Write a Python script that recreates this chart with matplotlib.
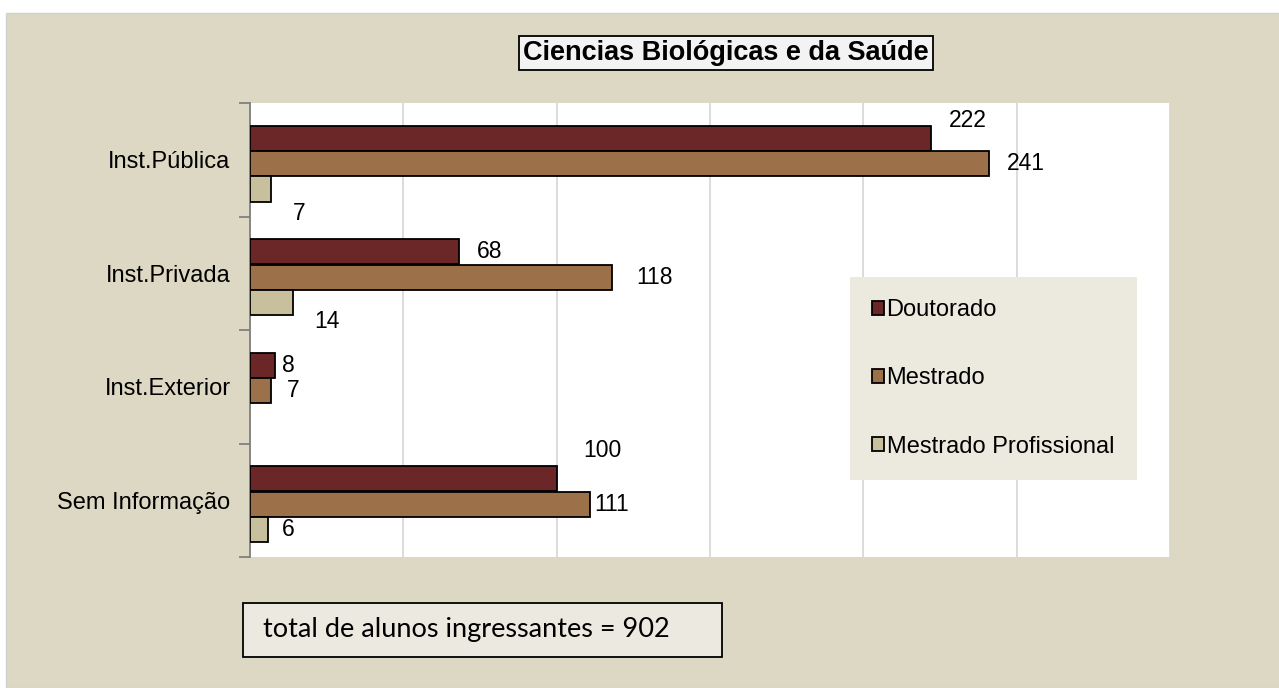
import matplotlib.pyplot as plt
from matplotlib.patches import Rectangle
import numpy as np

plt.rcParams['font.family'] = ['Liberation Sans', 'DejaVu Sans']

categories = ['Inst.Pública', 'Inst.Privada', 'Inst.Exterior', 'Sem Informação']
series = ['Doutorado', 'Mestrado', 'Mestrado Profissional']
doutorado = [222, 68, 8, 100]
mestrado = [241, 118, 7, 111]
mestrado_prof = [7, 14, 0, 6]
total = 902

colors = ['#6B2727', '#9C714A', '#C8C09D']
# label nudges (value units, band units) picked to follow the original
nudges = [
    [(12, -0.16), (10, 0), (4.5, 0), (15, -0.25)],
    [(12, 0), (14, 0), (7, 0), (7, 0)],
    [(9, 0.22), (11, 0.17), (0, 0), (6.5, 0)],
]

fig = plt.figure(figsize=(12.79, 6.88), dpi=100, facecolor='white')
fig.patches.append(Rectangle((6 / 1279, 0), 1, 1 - 13 / 688, transform=fig.transFigure,
                             facecolor='#DDD8C3', edgecolor='#D0D0D0', lw=1.0, zorder=-5))

ax = fig.add_axes([250 / 1279, 1 - 557 / 688, 920 / 1279, 454 / 688])
ax.set_facecolor('white')

y = np.arange(len(categories))
h = 0.222
offsets = [-0.19, 0.035, 0.257]
data = [doutorado, mestrado, mestrado_prof]
for vals, off, col, name, nud in zip(data, offsets, colors, series, nudges):
    edges = ['black' if v > 0 else 'none' for v in vals]
    ax.barh(y + off, vals, height=h, color=col, edgecolor=edges, lw=1.3, label=name, zorder=3)
    for yi, v, (dx, dy) in zip(y, vals, nud):
        if v == 0:
            continue
        ax.text(v + dx, yi + off + dy, str(v), ha='center', va='center', fontsize=16.5, zorder=4)

ax.set_xlim(0, 300)
ax.set_ylim(3.5, -0.5)
ax.set_xticks(np.arange(0, 301, 50))
ax.xaxis.grid(True, color='#D9D9D9', lw=1.3, zorder=0)
ax.tick_params(axis='x', length=0, labelbottom=False)
ax.set_yticks(y)
ax.set_yticklabels(categories, fontsize=17)
ax.tick_params(axis='y', length=0, pad=14)
ax.set_yticks(np.arange(-0.5, 3.6, 1), minor=True)
ax.tick_params(axis='y', which='minor', length=8, color='#808080', width=1.3)
for s in ['top', 'right', 'bottom']:
    ax.spines[s].set_visible(False)
ax.spines['left'].set_color('#808080')
ax.spines['left'].set_linewidth(1.3)

leg = ax.legend(loc='upper left', bbox_to_anchor=(600 / 920, 280 / 454),
                fontsize=17, frameon=True, fancybox=False, handlelength=0.5, handleheight=0.5,
                handletextpad=0.1, labelspacing=1.95, borderpad=0.95, borderaxespad=0)
leg.get_frame().set_facecolor('#ECE9DF')
leg.get_frame().set_edgecolor('none')
leg.get_frame().set_alpha(1)
for hnd in leg.legend_handles:
    hnd.set_edgecolor('black')

fig.text(726 / 1279, 1 - 53 / 688, 'Ciencias Biológicas e da Saúde', ha='center', va='center',
         fontsize=19.5, fontweight='bold',
         bbox=dict(boxstyle='square,pad=0.14', facecolor='#F3F3F3', edgecolor='black', lw=1.3))

fig.patches.append(Rectangle((243 / 1279, 1 - 657 / 688), 479 / 1279, 54 / 688,
                             transform=fig.transFigure, facecolor='#ECE9E0',
                             edgecolor='black', lw=1.3, zorder=2))
fig.text(263 / 1279, 1 - 630 / 688, f'total de alunos ingressantes = {total}', ha='left',
         va='center', fontsize=19.5, family=['Lato', 'DejaVu Sans'], zorder=3)

fig.savefig('out.png', dpi=100, facecolor=fig.get_facecolor())
